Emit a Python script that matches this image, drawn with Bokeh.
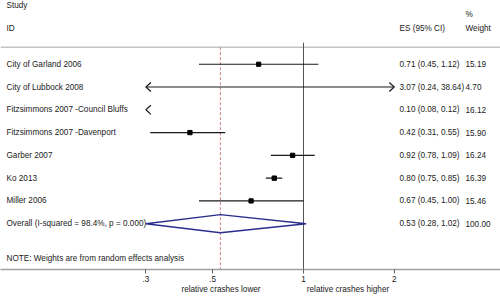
import math
from bokeh.plotting import figure
from bokeh.models import Range1d, FixedTicker, LogAxis
from bokeh.core.properties import value
from bokeh.embed import file_html
from bokeh.resources import INLINE

# ---- data ----
studies = ["City of Garland 2006", "City of Lubbock 2008",
           "Fitzsimmons 2007 -Council Bluffs", "Fitzsimmons 2007 -Davenport",
           "Garber 2007", "Ko 2013", "Miller 2006"]
es = [0.71, 3.07, 0.10, 0.42, 0.92, 0.80, 0.67]
lo = [0.45, 0.24, 0.08, 0.31, 0.78, 0.75, 0.45]
hi = [1.12, 38.64, 0.12, 0.55, 1.09, 0.85, 1.00]
weights = [15.19, 4.70, 16.12, 15.90, 16.24, 16.39, 15.46]
overall_es, overall_lo, overall_hi = 0.53, 0.28, 1.02
overall_label = "Overall  (I-squared = 98.4%, p = 0.000)"
tick_vals = [0.3, 0.5, 1, 2]
tick_labels = [".3", ".5", "1", "2"]
axis_min, axis_max = 0.3, 2.0
captions = ["relative crashes lower", "relative crashes higher"]

# ---- layout helpers (reference-pixel based) ----
PX_PER_LN = 130.9
X_ONE = 303.0
def rx(px):
    return math.exp((px - X_ONE) / PX_PER_LN)

Y_AXIS = 268.0
Y_TOP = 0.0
ROW0, ROWSTEP = 63.5, 22.7
row_y = [ROW0 + ROWSTEP * i for i in range(len(studies))]
y_overall = ROW0 + ROWSTEP * len(studies)

FONT = value("Liberation Sans")
FS = "8.2px"
TXT = "#222222"

p = figure(width=500, height=296, x_axis_type="log",
           x_range=Range1d(rx(0), rx(500)), y_range=Range1d(Y_AXIS, Y_TOP),
           output_backend="svg", toolbar_location=None,
           y_axis_location=None, min_border_left=0, min_border_right=0,
           min_border_top=0, min_border_bottom=0)
p.outline_line_color = None
p.xgrid.grid_line_color = None
p.ygrid.grid_line_color = None

# axis
ax = p.xaxis[0]
ax.ticker = FixedTicker(ticks=tick_vals, minor_ticks=[])
ax.major_label_overrides = {v: t for v, t in zip(tick_vals, tick_labels)}
ax.axis_line_color = "#a0a0a0"
ax.axis_line_width = 1.5
ax.major_tick_line_color = "#606060"
ax.major_tick_out = 4
ax.major_tick_in = 0
ax.minor_tick_line_color = None
ax.major_label_standoff = 2
ax.major_label_text_font = "Liberation Sans"
ax.major_label_text_font_size = FS
ax.major_label_text_color = TXT

# caption axis (texts placed under the main axis)
cap_pos = [rx(220.5), rx(347.5)]
cap_ax = LogAxis(ticker=FixedTicker(ticks=cap_pos, minor_ticks=[]),
                 major_label_overrides={v: t for v, t in zip(cap_pos, captions)},
                 axis_line_color=None, major_tick_line_color=None,
                 minor_tick_line_color=None, major_tick_out=0, major_tick_in=0,
                 major_label_standoff=0, major_label_text_font="Liberation Sans",
                 major_label_text_font_size=FS, major_label_text_color=TXT)
p.add_layout(cap_ax, "below")

# separator line
p.segment(x0=[rx(0)], y0=[46.5], x1=[rx(500)], y1=[46.5],
          line_color="#c4c4c4", line_width=1.5)
# null line at 1
p.segment(x0=[1], y0=[42], x1=[1], y1=[Y_AXIS], line_color="#555555", line_width=1)
# overall dashed line
p.segment(x0=[overall_es], y0=[46.5], x1=[overall_es], y1=[Y_AXIS],
          line_color="#d47f84", line_width=1, line_dash="3 2")

# CI lines (clipped) and arrowheads
seg_x0, seg_x1, seg_y = [], [], []
arr_xs, arr_ys = [], []
wing = math.exp(5 / PX_PER_LN)
for y, l, h in zip(row_y, lo, hi):
    cl = min(max(l, axis_min), axis_max)
    ch = min(max(h, axis_min), axis_max)
    if ch > cl:
        seg_x0.append(cl); seg_x1.append(ch); seg_y.append(y)
    if l < axis_min:
        arr_xs.append([axis_min * wing, axis_min, axis_min * wing])
        arr_ys.append([y - 4.5, y, y + 4.5])
    if h > axis_max:
        arr_xs.append([axis_max / wing, axis_max, axis_max / wing])
        arr_ys.append([y - 4.5, y, y + 4.5])
p.segment(x0=seg_x0, y0=seg_y, x1=seg_x1, y1=seg_y, line_color="#1a1a1a", line_width=1.2)
p.multi_line(xs=arr_xs, ys=arr_ys, line_color="#1a1a1a", line_width=1.2)

# point estimates
px_, py_, ps_ = [], [], []
for y, e, w in zip(row_y, es, weights):
    if axis_min <= e <= axis_max:
        px_.append(e); py_.append(y); ps_.append(4.3 * math.sqrt(w / 16.0))
p.scatter(x=px_, y=py_, size=ps_, marker="square", fill_color="#000000", line_color="#000000")

# overall diamond
dl = max(overall_lo, axis_min)
dh = min(overall_hi, axis_max)
p.patch(x=[dl, overall_es, dh, overall_es, dl],
        y=[y_overall, y_overall - 9, y_overall, y_overall + 9, y_overall],
        fill_alpha=0, line_color="#2b2d8e", line_width=1.3)

# text columns
def txt(xs, ys, texts, align="left"):
    p.text(x=xs, y=ys, text=texts, text_font=FONT, text_font_size=FS,
           text_color=TXT, text_baseline="middle", text_align=align)

txt([rx(6), rx(6)], [5, 27.5], ["Study", "ID"])
txt([rx(399), rx(465), rx(465)], [27.5, 27.5, 14], ["ES (95% CI)", "Weight", "%"])
txt([rx(6)] * len(studies), row_y, studies)
es_txt = [f"{e:.2f} ({l:.2f}, {h:.2f})" for e, l, h in zip(es, lo, hi)]
txt([rx(399)] * len(studies), row_y, es_txt)
txt([rx(465)] * len(studies), row_y, [f"{w:.2f}" for w in weights])
txt([rx(6)], [y_overall], [overall_label])
txt([rx(399)], [y_overall], [f"{overall_es:.2f} ({overall_lo:.2f}, {overall_hi:.2f})"])
txt([rx(465)], [y_overall], ["100.00"])
txt([rx(6)], [256.7], ["NOTE: Weights are from random effects analysis"])

open("out.html", "w").write(file_html(p, INLINE))
